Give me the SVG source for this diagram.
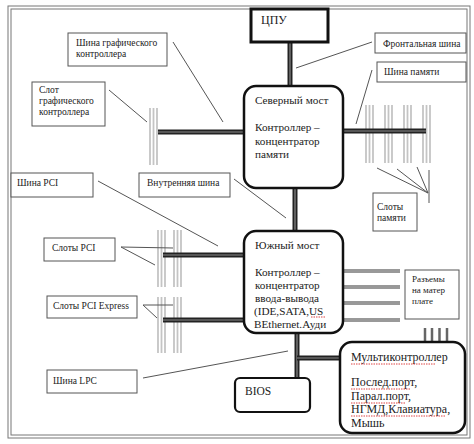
<svg xmlns="http://www.w3.org/2000/svg" width="474" height="444" viewBox="0 0 474 444" font-family="'Liberation Serif', 'Times New Roman', serif">
<style>
text{font-family:'Liberation Serif','Times New Roman',serif;fill:#222}
.big{font-size:11.2px}
.mc{font-size:12px}
.sm{font-size:9.5px}
.xs{font-size:9px}
.lbl{fill:#fff;stroke:#555;stroke-width:1}
.node{fill:#fff;stroke:#111;stroke-width:2.5}
.lead{stroke:#555;stroke-width:1;fill:none}
.busO{stroke:#222;stroke-width:5;fill:none}
.busI{stroke:#8a8a8a;stroke-width:1.2;fill:none}
.slot{stroke:#c4c4c4;stroke-width:1.8}
.conn{stroke:#777;stroke-width:3.4}
.connI{stroke:#bbb;stroke-width:1}
.sq{stroke:#d44;stroke-width:1;stroke-dasharray:1.5 1;fill:none}
</style>
<rect width="474" height="444" fill="#fff"/>
<rect x="8" y="6" width="462" height="432" fill="none" stroke="#777" stroke-width="1"/>
<rect x="11" y="9" width="456" height="426" fill="none" stroke="#777" stroke-width="1"/>

<g id="slots">
  <g id="slot-agp"><line class="slot" x1="150" y1="108" x2="150" y2="165"/><line class="slot" x1="153.5" y1="108" x2="153.5" y2="165"/><line class="slot" x1="157" y1="108" x2="157" y2="165"/></g>
  <g id="slot-mem">
    <line class="slot" x1="366" y1="105" x2="366" y2="163"/><line class="slot" x1="369.5" y1="105" x2="369.5" y2="163"/><line class="slot" x1="373" y1="105" x2="373" y2="163"/>
    <line class="slot" x1="385" y1="105" x2="385" y2="163"/><line class="slot" x1="388.5" y1="105" x2="388.5" y2="163"/><line class="slot" x1="392" y1="105" x2="392" y2="163"/>
    <line class="slot" x1="404" y1="105" x2="404" y2="163"/><line class="slot" x1="407.5" y1="105" x2="407.5" y2="163"/><line class="slot" x1="411" y1="105" x2="411" y2="163"/>
    <line class="slot" x1="423" y1="105" x2="423" y2="163"/><line class="slot" x1="426.5" y1="105" x2="426.5" y2="163"/><line class="slot" x1="430" y1="105" x2="430" y2="163"/>
  </g>
  <g id="slot-pci">
    <line class="slot" x1="158" y1="230" x2="158" y2="287"/><line class="slot" x1="161.5" y1="230" x2="161.5" y2="287"/><line class="slot" x1="165" y1="230" x2="165" y2="287"/>
    <line class="slot" x1="174" y1="230" x2="174" y2="287"/><line class="slot" x1="177.5" y1="230" x2="177.5" y2="287"/><line class="slot" x1="181" y1="230" x2="181" y2="287"/>
  </g>
  <g id="slot-pcie">
    <line class="slot" x1="158" y1="297" x2="158" y2="353"/><line class="slot" x1="161.5" y1="297" x2="161.5" y2="353"/><line class="slot" x1="165" y1="297" x2="165" y2="353"/>
    <line class="slot" x1="174" y1="297" x2="174" y2="353"/><line class="slot" x1="177.5" y1="297" x2="177.5" y2="353"/><line class="slot" x1="181" y1="297" x2="181" y2="353"/>
  </g>
</g>

<g id="connectors">
  <line class="busO" x1="290" y1="42" x2="290" y2="87"/><line class="busI" x1="290" y1="42" x2="290" y2="87"/>
  <line class="busO" x1="295" y1="188" x2="295" y2="231"/><line class="busI" x1="295" y1="188" x2="295" y2="231"/>
  <line class="busO" x1="158" y1="132" x2="244" y2="132"/><line class="busI" x1="158" y1="132" x2="244" y2="132"/>
  <line class="busO" x1="343" y1="131" x2="426" y2="131"/><line class="busI" x1="343" y1="131" x2="426" y2="131"/>
  <line class="busO" x1="163" y1="255" x2="244" y2="255"/><line class="busI" x1="163" y1="255" x2="244" y2="255"/>
  <line class="busO" x1="163" y1="320" x2="244" y2="320"/><line class="busI" x1="163" y1="320" x2="244" y2="320"/>
  <line class="busO" x1="297" y1="333" x2="297" y2="378"/><line class="busI" x1="297" y1="333" x2="297" y2="378"/>
  <line class="busO" x1="297" y1="358" x2="340" y2="358"/><line class="busI" x1="297" y1="358" x2="340" y2="358"/>
  <line class="conn" x1="343" y1="271" x2="400" y2="271"/><line class="connI" x1="343" y1="271" x2="400" y2="271"/>
  <line class="conn" x1="343" y1="287" x2="400" y2="287"/><line class="connI" x1="343" y1="287" x2="400" y2="287"/>
  <line class="conn" x1="343" y1="303" x2="400" y2="303"/><line class="connI" x1="343" y1="303" x2="400" y2="303"/>
  <line class="conn" x1="343" y1="320" x2="400" y2="320"/><line class="connI" x1="343" y1="320" x2="400" y2="320"/>
  <line stroke="#666" stroke-width="2.5" x1="425" y1="328" x2="425" y2="342"/>
  <line stroke="#666" stroke-width="2.5" x1="432" y1="328" x2="432" y2="342"/>
  <line stroke="#666" stroke-width="2.5" x1="439.5" y1="328" x2="439.5" y2="342"/>
  <line stroke="#666" stroke-width="2.5" x1="447" y1="328" x2="447" y2="342"/>
  <line class="lead" x1="173" y1="42" x2="223" y2="122"/>
  <line class="lead" x1="109" y1="90" x2="147" y2="122"/>
  <line class="lead" x1="372" y1="42" x2="296" y2="68"/>
  <line class="lead" x1="372" y1="70" x2="356" y2="124"/>
  <line class="lead" x1="377" y1="168" x2="428" y2="193"/>
  <line class="lead" x1="397" y1="169" x2="428" y2="193"/>
  <line class="lead" x1="417" y1="167" x2="428" y2="193"/>
  <line class="lead" x1="429" y1="170" x2="429" y2="203"/>
  <line class="lead" x1="234" y1="179" x2="286" y2="218"/>
  <line class="lead" x1="98" y1="181" x2="218" y2="246"/>
  <line class="lead" x1="121" y1="247" x2="173" y2="248"/>
  <line class="lead" x1="121" y1="247" x2="155" y2="265"/>
  <line class="lead" x1="143" y1="305" x2="173" y2="305"/>
  <line class="lead" x1="143" y1="305" x2="157" y2="318"/>
  <line class="lead" x1="143" y1="378" x2="288" y2="351"/>
</g>

<g id="cpu">
  <rect x="251" y="9" width="77" height="33" fill="#fff" stroke="#111" stroke-width="3"/>
  <text x="261" y="24" font-size="12">ЦПУ</text>
</g>
<g id="north-bridge">
  <rect class="node" x="244" y="86" width="99" height="102" rx="12"/>
  <text class="big" x="255" y="104">Северный мост</text>
  <text class="big" x="255" y="131">Контроллер –</text>
  <text class="big" x="255" y="144.5">концентратор</text>
  <text class="big" x="255" y="158">памяти</text>
</g>
<g id="south-bridge">
  <rect class="node" x="244" y="231" width="99" height="102" rx="12"/>
  <text class="big" x="255" y="249">Южный мост</text>
  <text class="big" x="255" y="276">Контроллер –</text>
  <text class="big" x="255" y="289">концентратор</text>
  <text class="big" x="255" y="302">ввода-вывода</text>
  <text class="big" x="254" y="315">(IDE,SATA,US</text>
  <text class="big" x="254" y="328">BEthernet.Ауди</text>
  <line class="sq" x1="311" y1="317" x2="325" y2="317"/>
</g>
<g id="bios">
  <rect x="235" y="378" width="75" height="34" rx="5" fill="#fff" stroke="#111" stroke-width="2.2"/>
  <text x="245" y="395" font-size="11.5">BIOS</text>
</g>
<g id="multicontroller">
  <rect class="node" x="340" y="342" width="125" height="91" rx="12"/>
  <text class="mc" x="351" y="361">Мультиконтроллер</text>
  <text class="mc" x="351" y="386">Послед.порт,</text>
  <text class="mc" x="351" y="400">Парал.порт,</text>
  <text class="mc" x="351" y="413">НГМД,Клавиатура,</text>
  <text class="mc" x="351" y="427">Мышь</text>
  <line class="sq" x1="351" y1="364" x2="435" y2="364"/>
  <line class="sq" x1="351" y1="389" x2="411" y2="389"/>
  <line class="sq" x1="351" y1="403" x2="405" y2="403"/>
  <line class="sq" x1="351" y1="416" x2="446" y2="416"/>
</g>

<g id="label-agp-bus">
  <rect class="lbl" x="68" y="33" width="99" height="33"/>
  <text class="sm" x="76" y="46">Шина графического</text>
  <text class="sm" x="76" y="57">контроллера</text>
</g>
<g id="label-agp-slot">
  <rect class="lbl" x="32" y="82" width="73" height="44"/>
  <text class="sm" x="39" y="93">Слот</text>
  <text class="sm" x="39" y="104">графического</text>
  <text class="sm" x="39" y="115">контроллера</text>
</g>
<g id="label-fsb">
  <rect class="lbl" x="375" y="33" width="91" height="20"/>
  <text class="sm" x="383" y="46.5">Фронтальная шина</text>
</g>
<g id="label-mem-bus">
  <rect class="lbl" x="377" y="62" width="89" height="20"/>
  <text class="sm" x="384" y="75">Шина памяти</text>
</g>
<g id="label-mem-slots">
  <rect class="lbl" x="373" y="193" width="44" height="38"/>
  <text class="sm" x="377" y="210">Слоты</text>
  <text class="sm" x="377" y="221">памяти</text>
</g>
<g id="label-internal-bus">
  <rect class="lbl" x="139" y="173" width="91" height="24"/>
  <text class="sm" x="147" y="186">Внутренняя шина</text>
</g>
<g id="label-pci-bus">
  <rect class="lbl" x="11" y="173" width="82" height="24"/>
  <text class="sm" x="17" y="186">Шина PCI</text>
</g>
<g id="label-pci-slots">
  <rect class="lbl" x="44" y="238" width="71" height="23"/>
  <text class="sm" x="52" y="251">Слоты PCI</text>
</g>
<g id="label-pcie-slots">
  <rect class="lbl" x="47" y="296" width="90" height="22"/>
  <text class="sm" x="53" y="309">Слоты PCI Express</text>
</g>
<g id="label-lpc">
  <rect class="lbl" x="47" y="370" width="90" height="23"/>
  <text class="sm" x="53" y="384">Шина LPC</text>
</g>
<g id="label-board">
  <rect class="lbl" x="405" y="270" width="54" height="49"/>
  <text class="xs" x="412" y="282">Разъемы</text>
  <text class="xs" x="412" y="293">на матер</text>
  <text class="xs" x="412" y="304">плате</text>
</g>
</svg>
